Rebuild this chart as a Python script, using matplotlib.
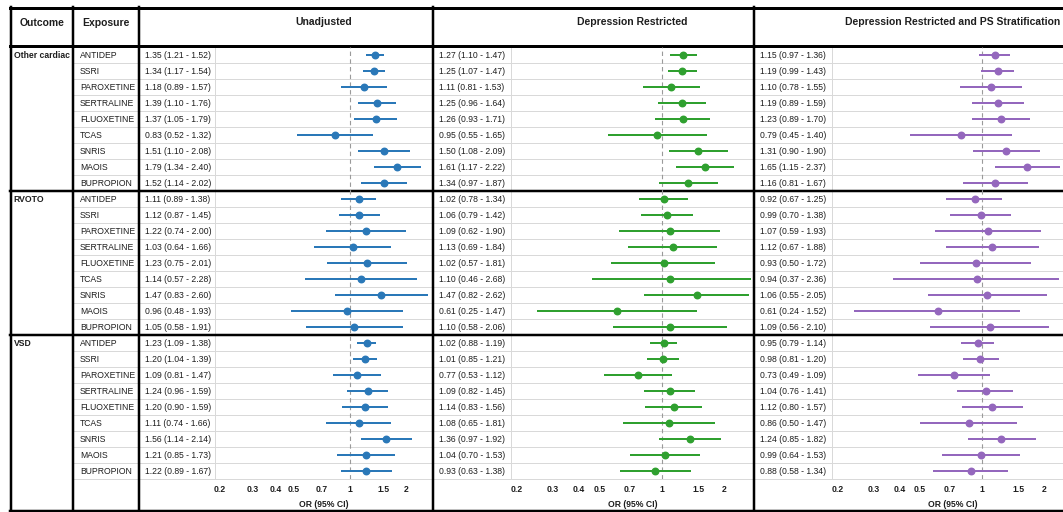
import matplotlib
matplotlib.use("Agg")
import matplotlib.pyplot as plt
from matplotlib.ticker import NullLocator

plt.rcParams['font.family'] = ['Liberation Sans', 'DejaVu Sans']

# ---------------- data ----------------
outcomes = ['Other cardiac', 'RVOTO', 'VSD']
exposures = ['ANTIDEP', 'SSRI', 'PAROXETINE', 'SERTRALINE', 'FLUOXETINE',
             'TCAS', 'SNRIS', 'MAOIS', 'BUPROPION']
panel_titles = ['Unadjusted', 'Depression Restricted',
                'Depression Restricted and PS Stratification']

# Unadjusted (rows: Other cardiac x9, RVOTO x9, VSD x9)
unadj_or = [1.35, 1.34, 1.18, 1.39, 1.37, 0.83, 1.51, 1.79, 1.52,
            1.11, 1.12, 1.22, 1.03, 1.23, 1.14, 1.47, 0.96, 1.05,
            1.23, 1.20, 1.09, 1.24, 1.20, 1.11, 1.56, 1.21, 1.22]
unadj_lo = [1.21, 1.17, 0.89, 1.10, 1.05, 0.52, 1.10, 1.34, 1.14,
            0.89, 0.87, 0.74, 0.64, 0.75, 0.57, 0.83, 0.48, 0.58,
            1.09, 1.04, 0.81, 0.96, 0.90, 0.74, 1.14, 0.85, 0.89]
unadj_hi = [1.52, 1.54, 1.57, 1.76, 1.79, 1.32, 2.08, 2.40, 2.02,
            1.38, 1.45, 2.00, 1.66, 2.01, 2.28, 2.60, 1.93, 1.91,
            1.38, 1.39, 1.47, 1.59, 1.59, 1.66, 2.14, 1.73, 1.67]

# Depression restricted
dep_or = [1.27, 1.25, 1.11, 1.25, 1.26, 0.95, 1.50, 1.61, 1.34,
          1.02, 1.06, 1.09, 1.13, 1.02, 1.10, 1.47, 0.61, 1.10,
          1.02, 1.01, 0.77, 1.09, 1.14, 1.08, 1.36, 1.04, 0.93]
dep_lo = [1.10, 1.07, 0.81, 0.96, 0.93, 0.55, 1.08, 1.17, 0.97,
          0.78, 0.79, 0.62, 0.69, 0.57, 0.46, 0.82, 0.25, 0.58,
          0.88, 0.85, 0.53, 0.82, 0.83, 0.65, 0.97, 0.70, 0.63]
dep_hi = [1.47, 1.47, 1.53, 1.64, 1.71, 1.65, 2.09, 2.22, 1.87,
          1.34, 1.42, 1.90, 1.84, 1.81, 2.68, 2.62, 1.47, 2.06,
          1.19, 1.21, 1.12, 1.45, 1.56, 1.81, 1.92, 1.53, 1.38]

# Depression restricted and PS stratification
ps_or = [1.15, 1.19, 1.10, 1.19, 1.23, 0.79, 1.31, 1.65, 1.16,
         0.92, 0.99, 1.07, 1.12, 0.93, 0.94, 1.06, 0.61, 1.09,
         0.95, 0.98, 0.73, 1.04, 1.12, 0.86, 1.24, 0.99, 0.88]
ps_lo = [0.97, 0.99, 0.78, 0.89, 0.89, 0.45, 0.90, 1.15, 0.81,
         0.67, 0.70, 0.59, 0.67, 0.50, 0.37, 0.55, 0.24, 0.56,
         0.79, 0.81, 0.49, 0.76, 0.80, 0.50, 0.85, 0.64, 0.58]
ps_hi = [1.36, 1.43, 1.55, 1.59, 1.70, 1.40, 1.90, 2.37, 1.67,
         1.25, 1.38, 1.93, 1.88, 1.72, 2.36, 2.05, 1.52, 2.10,
         1.14, 1.20, 1.09, 1.41, 1.57, 1.47, 1.82, 1.53, 1.34]

tick_vals = [0.2, 0.3, 0.4, 0.5, 0.7, 1, 1.5, 2]
tick_labels = ['0.2', '0.3', '0.4', '0.5', '0.7', '1', '1.5', '2']

# ---------------- layout ----------------
W, H = 1063, 512
fig = plt.figure(figsize=(W / 100, H / 100), dpi=100)
bg = fig.add_axes([0, 0, 1, 1])
bg.set_xlim(0, W)
bg.set_ylim(H, 0)
bg.axis('off')

def px_box(x0, y0, x1, y1):
    return [x0 / W, 1 - y1 / H, (x1 - x0) / W, (y1 - y0) / H]

PX = 72 / 100  # points per pixel
row_h = 16
top = 47
n_rows = len(outcomes) * len(exposures)
rows_bottom = top + n_rows * row_h
bottom = 510.5
left = 10.5
col_outcome = 73
col_exposure = 139
panels = [(139, 215, 433), (433, 511, 754), (754, 832, 1074)]
colors = ['#2a78b8', '#2fa02f', '#9467bd']
datasets = [(unadj_or, unadj_lo, unadj_hi), (dep_or, dep_lo, dep_hi),
            (ps_or, ps_lo, ps_hi)]

text_col = '#1e1e1e'
grid_col = '#d9d9d9'
row_fs = 6.2

# light row lines
for k in range(1, n_rows + 1):
    if k % len(exposures) == 0 and k < n_rows:
        continue
    y = top + k * row_h
    bg.plot([col_outcome, W], [y, y], color=grid_col, lw=1 * PX, zorder=1)
# light separators between text and plot columns
for p0, t, p1 in panels:
    bg.plot([t, t], [top, rows_bottom], color=grid_col, lw=1 * PX, zorder=1)

# thick lines
bg.plot([left - 1, W], [8, 8], color='black', lw=3 * PX, zorder=3)
bg.plot([left - 1, W], [46, 46], color='black', lw=3 * PX, zorder=3)
for g in range(1, len(outcomes)):
    y = top + g * len(exposures) * row_h
    bg.plot([left - 1, W], [y, y], color='black', lw=2.5 * PX, zorder=3)
bg.plot([left - 1, W], [bottom, bottom], color='black', lw=2.5 * PX, zorder=3)
for x in [left, col_outcome, col_exposure, panels[1][0], panels[2][0]]:
    bg.plot([x, x], [7, bottom + 1], color='black', lw=2.5 * PX, zorder=3)

# headers
bg.text((left + col_outcome) / 2, 23, 'Outcome', ha='center', va='center',
        fontsize=7.5, fontweight='bold', color=text_col)
bg.text((col_outcome + col_exposure) / 2, 23, 'Exposure', ha='center',
        va='center', fontsize=7.5, fontweight='bold', color=text_col)
for (p0, t, p1), title in zip(panels, panel_titles):
    bg.text((t + p1) / 2, 22, title, ha='center', va='center',
            fontsize=7.5, fontweight='bold', color=text_col)

# row labels
for g, oc in enumerate(outcomes):
    y0 = top + g * len(exposures) * row_h + row_h / 2
    bg.text(left + 3, y0, oc, ha='left', va='center', fontsize=row_fs,
            fontweight='bold', color=text_col)
    for i, ex in enumerate(exposures):
        y = y0 + i * row_h
        bg.text(col_outcome + 7, y, ex, ha='left', va='center',
                fontsize=row_fs, color=text_col)

# CI texts and forest plots
for (p0, t, p1), col, (o, lo, hi) in zip(panels, colors, datasets):
    for k in range(n_rows):
        y = top + k * row_h + row_h / 2
        bg.text(p0 + 6, y, f'{o[k]:.2f} ({lo[k]:.2f} - {hi[k]:.2f})',
                ha='left', va='center', fontsize=row_fs, color=text_col)
    ax = fig.add_axes(px_box(t, top, p1, rows_bottom))
    ax.set_facecolor('none')
    ypos = [k + 0.5 for k in range(n_rows)]
    xerr = [[o[k] - lo[k] for k in range(n_rows)],
            [hi[k] - o[k] for k in range(n_rows)]]
    ax.axvline(1, color='#9a9a9a', ls=(0, (4, 3)), lw=1.1 * PX, zorder=1)
    ax.errorbar(o, ypos, xerr=xerr, fmt='o', color=col, ms=6.5 * PX,
                elinewidth=2 * PX, capsize=0, zorder=3)
    ax.set_xscale('log')
    ax.set_xlim(0.188, 2.78)
    ax.set_ylim(n_rows, 0)
    ax.set_xticks(tick_vals)
    ax.set_xticklabels(tick_labels)
    ax.xaxis.set_minor_locator(NullLocator())
    ax.set_yticks([])
    ax.tick_params(axis='x', length=0, pad=4, labelsize=6.2, colors=text_col)
    for lbl in ax.get_xticklabels():
        lbl.set_fontweight('bold')
    ax.set_xlabel('OR (95% CI)', fontsize=6.2, fontweight='bold',
                  color=text_col, labelpad=4.5)
    for s in ax.spines.values():
        s.set_visible(False)

fig.savefig('out.png', dpi=100)
